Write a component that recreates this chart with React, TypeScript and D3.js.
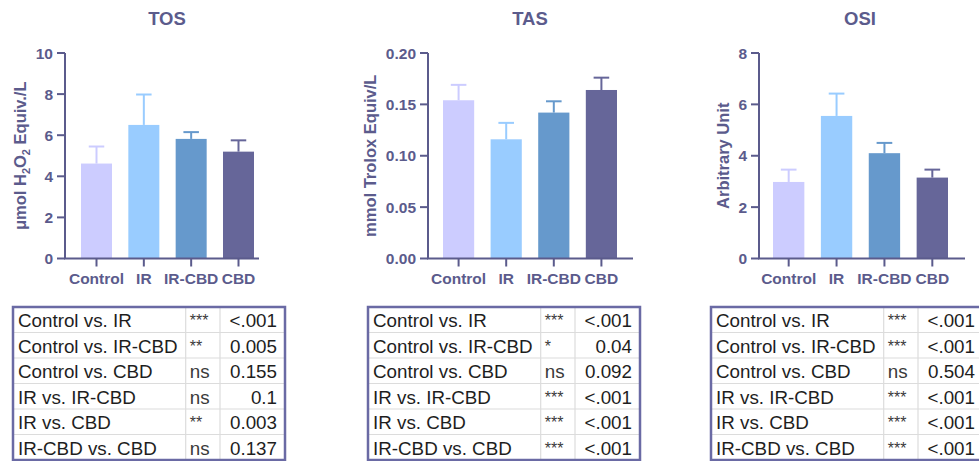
import React from "react";
import * as d3 from "d3";

const categories = ["Control", "IR", "IR-CBD", "CBD"];
const barColors = ["#ccccff", "#99ccff", "#6699cc", "#666699"];

const tosMeans = [4.62, 6.5, 5.82, 5.2];
const tosUpper = [5.45, 7.98, 6.15, 5.75];
const tosTicks = [0, 2, 4, 6, 8, 10];

const tasMeans = [0.154, 0.116, 0.142, 0.164];
const tasUpper = [0.169, 0.132, 0.153, 0.176];
const tasTicks = [0, 0.05, 0.1, 0.15, 0.2];

const osiMeans = [2.98, 5.55, 4.1, 3.15];
const osiUpper = [3.46, 6.42, 4.5, 3.46];
const osiTicks = [0, 2, 4, 6, 8];

const comparisons = [
  "Control vs. IR",
  "Control vs. IR-CBD",
  "Control vs. CBD",
  "IR vs. IR-CBD",
  "IR vs. CBD",
  "IR-CBD vs. CBD",
];
const tosSig = ["***", "**", "ns", "ns", "**", "ns"];
const tosP = ["<.001", "0.005", "0.155", "0.1", "0.003", "0.137"];
const tasSig = ["***", "*", "ns", "***", "***", "***"];
const tasP = ["<.001", "0.04", "0.092", "<.001", "<.001", "<.001"];
const osiSig = ["***", "***", "ns", "***", "***", "***"];
const osiP = ["<.001", "<.001", "0.504", "<.001", "<.001", "<.001"];

const AXIS = "#5b5b8c";
const FONT = "'Liberation Sans', Arial, sans-serif";

type PanelProps = {
  title: string;
  yLabel: React.ReactNode;
  means: number[];
  upper: number[];
  ticks: number[];
  fmt: (v: number) => string;
  axisX: number;
  axisEnd: number;
  barStart: number;
  barEnd: number;
  titleX: number;
  labelX: number;
  tableLeft: number;
  sig: string[];
  pv: string[];
};

function Panel(p: PanelProps) {
  const top = 53;
  const bottom = 258.5;
  const y = d3.scaleLinear().domain([p.ticks[0], p.ticks[p.ticks.length - 1]]).range([bottom, top]);
  const x = d3.scaleBand<string>().domain(categories).range([p.barStart, p.barEnd]).paddingInner(0.345).paddingOuter(0);
  const bw = x.bandwidth();
  const capW = bw * 0.5;

  const tTop = 307;
  const rowH = 25.5;
  const c1 = 172.7;
  const c2 = 34.3;
  const c3 = 65;
  const tW = c1 + c2 + c3;
  const rowY = d3.range(comparisons.length + 1).map((i) => tTop + i * rowH);

  return (
    <g>
      <text x={p.titleX} y={25} textAnchor="middle" fontFamily={FONT} fontWeight="bold" fontSize={18.5} fill={AXIS}>
        {p.title}
      </text>
      <text
        transform={`translate(${p.labelX},${(top + bottom) / 2}) rotate(-90)`}
        textAnchor="middle"
        dominantBaseline="central"
        fontFamily={FONT}
        fontWeight="bold"
        fontSize={16.5}
        fill={AXIS}
      >
        {p.yLabel}
      </text>
      {categories.map((c, i) => (
        <rect key={c} x={x(c)} y={y(p.means[i])} width={bw} height={bottom - y(p.means[i])} fill={barColors[i]} />
      ))}
      {categories.map((c, i) => {
        const cx = (x(c) as number) + bw / 2;
        return (
          <g key={"e" + c} stroke={barColors[i]} strokeWidth={2}>
            <line x1={cx} x2={cx} y1={y(p.means[i])} y2={y(p.upper[i])} />
            <line x1={cx - capW / 2} x2={cx + capW / 2} y1={y(p.upper[i])} y2={y(p.upper[i])} />
          </g>
        );
      })}
      <line x1={p.axisX} x2={p.axisX} y1={top} y2={bottom} stroke={AXIS} strokeWidth={2} />
      {p.ticks.map((t) => (
        <g key={t}>
          <line x1={p.axisX - 8} x2={p.axisX} y1={y(t)} y2={y(t)} stroke={AXIS} strokeWidth={2} />
          <text
            x={p.axisX - 12}
            y={y(t)}
            textAnchor="end"
            dominantBaseline="central"
            fontFamily={FONT}
            fontWeight="bold"
            fontSize={15.5}
            fill={AXIS}
          >
            {p.fmt(t)}
          </text>
        </g>
      ))}
      <line x1={p.axisX - 1} x2={p.axisEnd} y1={bottom} y2={bottom} stroke={AXIS} strokeWidth={2} />
      {categories.map((c) => {
        const cx = (x(c) as number) + bw / 2;
        return (
          <g key={"x" + c}>
            <line x1={cx} x2={cx} y1={bottom} y2={bottom + 8} stroke={AXIS} strokeWidth={2} />
            <text x={cx} y={283.5} textAnchor="middle" fontFamily={FONT} fontWeight="bold" fontSize={15.5} fill={AXIS}>
              {c}
            </text>
          </g>
        );
      })}
      <g>
        <rect x={p.tableLeft} y={tTop} width={tW} height={rowH * comparisons.length} fill="#ffffff" />
        {rowY.slice(1, -1).map((ry, i) => (
          <line key={"r" + i} x1={p.tableLeft} x2={p.tableLeft + tW} y1={ry} y2={ry} stroke="#dcdcdc" strokeWidth={1.2} />
        ))}
        <line x1={p.tableLeft + c1} x2={p.tableLeft + c1} y1={tTop} y2={rowY[rowY.length - 1]} stroke="#dcdcdc" strokeWidth={1.2} />
        <line x1={p.tableLeft + c1 + c2} x2={p.tableLeft + c1 + c2} y1={tTop} y2={rowY[rowY.length - 1]} stroke="#dcdcdc" strokeWidth={1.2} />
        {comparisons.map((cmp, i) => {
          const cy = rowY[i] + rowH / 2 + 1;
          return (
            <g key={"t" + i} fontFamily={FONT} fontSize={18.8}>
              <text x={p.tableLeft + 5} y={cy} dominantBaseline="central" fill="#1e1e1e">
                {cmp}
              </text>
              <text x={p.tableLeft + c1 + 4} y={cy} dominantBaseline="central" fill="#3a3a3a" fontSize={p.sig[i] === "ns" ? 18.8 : 16}>
                {p.sig[i]}
              </text>
              <text x={p.tableLeft + tW - 8} y={cy} textAnchor="end" dominantBaseline="central" fill="#1e1e1e">
                {p.pv[i]}
              </text>
            </g>
          );
        })}
        <rect
          x={p.tableLeft}
          y={tTop}
          width={tW}
          height={rowH * comparisons.length}
          fill="none"
          stroke="#6a6aa4"
          strokeWidth={2.5}
        />
      </g>
    </g>
  );
}

export default function App() {
  const f0 = (v: number) => d3.format("d")(v);
  const f2 = (v: number) => d3.format(".2f")(v);
  return (
    <svg width={979} height={461} style={{ position: "absolute", left: 0, top: 0, background: "#ffffff" }}>
      <rect width={979} height={461} fill="#ffffff" />
      <Panel
        title="TOS"
        yLabel={
          <>
            μmol H<tspan baselineShift="sub" fontSize={11}>2</tspan>O<tspan baselineShift="sub" fontSize={11}>2</tspan> Equiv./L
          </>
        }
        means={tosMeans}
        upper={tosUpper}
        ticks={tosTicks}
        fmt={f0}
        axisX={65}
        axisEnd={259}
        barStart={81}
        barEnd={254}
        titleX={167}
        labelX={20}
        tableLeft={13}
        sig={tosSig}
        pv={tosP}
      />
      <Panel
        title="TAS"
        yLabel="mmol Trolox Equiv/L"
        means={tasMeans}
        upper={tasUpper}
        ticks={tasTicks}
        fmt={f2}
        axisX={428}
        axisEnd={633}
        barStart={443}
        barEnd={617}
        titleX={530}
        labelX={370}
        tableLeft={368}
        sig={tasSig}
        pv={tasP}
      />
      <Panel
        title="OSI"
        yLabel="Arbitrary Unit"
        means={osiMeans}
        upper={osiUpper}
        ticks={osiTicks}
        fmt={f0}
        axisX={759}
        axisEnd={965}
        barStart={773}
        barEnd={948}
        titleX={860}
        labelX={723}
        tableLeft={711}
        sig={osiSig}
        pv={osiP}
      />
    </svg>
  );
}
